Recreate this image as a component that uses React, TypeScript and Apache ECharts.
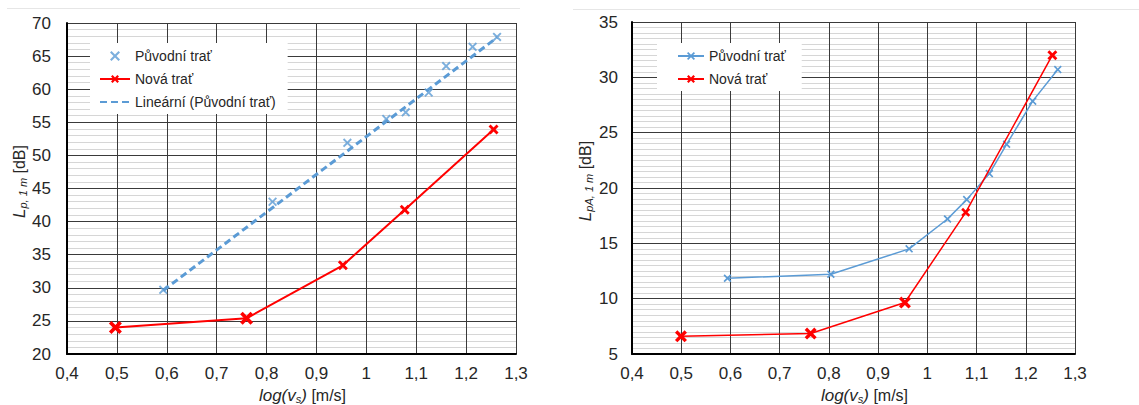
import { useEffect, useRef } from 'react';
import * as echarts from 'echarts';

// Left panel: L_p,1m versus log(v_s)
const leftOrigX = [0.593, 0.812, 0.962, 1.04, 1.079, 1.125, 1.16, 1.213, 1.262];
const leftOrigY = [29.7, 43.0, 51.9, 55.5, 56.5, 59.5, 63.5, 66.4, 67.9];
const leftNewX = [0.497, 0.76, 0.953, 1.077, 1.255];
const leftNewY = [24.0, 25.4, 33.4, 41.8, 53.9];
const leftTrendX = [0.593, 1.262];
const leftTrendY = [29.6, 67.8];

// Right panel: L_pA,1m versus log(v_s)
const rightOrigX = [0.594, 0.804, 0.963, 1.041, 1.08, 1.126, 1.161, 1.214, 1.265];
const rightOrigY = [11.85, 12.2, 14.5, 17.2, 18.95, 21.3, 23.95, 27.85, 30.7];
const rightNewX = [0.4995, 0.763, 0.9545, 1.078, 1.254];
const rightNewY = [6.6, 6.85, 9.65, 17.8, 32.0];

// Series names and axis titles
const NAME_ORIG = 'Původní trať';
const NAME_NEW = 'Nová trať';
const NAME_TREND = 'Lineární (Původní trať)';
const X_TITLE = '{i|log(v}{sub|s}{i|)} [m/s]';
const LEFT_Y_TITLE = '{i|L}{sub|p, 1 m} [dB]';
const RIGHT_Y_TITLE = '{i|L}{sub|pA, 1 m} [dB]';

// Marker sizes for the red series (emphasised low-speed points)
const leftNewSizes = [13, 13, 10, 10, 10];
const rightNewSizes = [12, 12, 12, 9, 10];

const FONT = '"Liberation Sans", Arial, sans-serif';
const BLUE = '#5B9BD5';
const RED = '#FF0000';
const TEXT = '#262626';

// X-shaped marker drawn in a 10x10 box; d sets the arm thickness
function xMark(d: number): string {
  return `path://M0,${d} L${d},0 L5,${5 - d} L${10 - d},0 L10,${d} L${5 + d},5 L10,${10 - d} L${10 - d},10 L5,${5 + d} L${d},10 L0,${10 - d} L${5 - d},5 Z`;
}
const THIN_X = xMark(1.5);
const BOLD_X = xMark(2.0);

const zip = (xs: number[], ys: number[]) => xs.map((x, i) => [x, ys[i]]);

const xLabel = (v: number) => String(Math.round(v * 10) / 10).replace('.', ',');

const richTitle = {
  i: { fontStyle: 'italic', fontSize: 17, fontFamily: FONT, color: TEXT, lineHeight: 18 },
  sub: {
    fontStyle: 'italic',
    fontSize: 11,
    fontFamily: FONT,
    color: TEXT,
    lineHeight: 11,
    verticalAlign: 'bottom',
  },
};

function xAxis(gridIndex: number) {
  return {
    type: 'value',
    gridIndex,
    min: 0.4,
    max: 1.3,
    interval: 0.1,
    name: X_TITLE,
    nameLocation: 'middle',
    nameGap: 32,
    nameTextStyle: {
      fontSize: 16,
      fontFamily: FONT,
      color: TEXT,
      padding: [0, 0, 0, 22],
      rich: richTitle,
    },
    axisLine: { show: true, lineStyle: { color: '#000', width: 2 } },
    axisTick: { show: false },
    axisLabel: { formatter: xLabel, fontSize: 17, fontFamily: FONT, color: TEXT, margin: 11 },
    splitLine: { show: true, lineStyle: { color: '#3a3a3a', width: 1 } },
  };
}

function yAxis(gridIndex: number, min: number, max: number, minorSplit: number, title: string, gap: number, margin: number) {
  return {
    type: 'value',
    gridIndex,
    min,
    max,
    interval: 5,
    name: title,
    nameLocation: 'middle',
    nameRotate: 90,
    nameGap: gap,
    nameTextStyle: {
      fontSize: 16,
      fontFamily: FONT,
      color: TEXT,
      padding: [0, 0, 0, 14],
      rich: richTitle,
    },
    axisLine: { show: true, onZero: false, lineStyle: { color: '#000', width: 2 } },
    axisTick: { show: false },
    axisLabel: { fontSize: 17, fontFamily: FONT, color: TEXT, margin },
    splitLine: { show: true, lineStyle: { color: '#3a3a3a', width: 1 } },
    minorTick: { show: false, splitNumber: minorSplit },
    minorSplitLine: { show: true, lineStyle: { color: '#d6d6d6', width: 1 } },
  };
}

function legend(left: number, top: number, names: string[], itemWidth: number, padLeft: number) {
  return {
    left,
    top,
    orient: 'vertical',
    backgroundColor: '#fff',
    padding: [6, 12, 5, padLeft],
    itemGap: 9,
    itemWidth,
    itemHeight: 10,
    selectedMode: false,
    data: names.map((name) =>
      name === NAME_TREND ? { name, itemStyle: { opacity: 0 } } : { name }
    ),
    textStyle: { fontSize: 14, fontFamily: FONT, color: TEXT },
  };
}

export default function App() {
  const ref = useRef<HTMLDivElement>(null);

  useEffect(() => {
    if (!ref.current) return;
    const chart = echarts.init(ref.current, undefined, { renderer: 'svg' });

    chart.setOption({
      animation: false,
      backgroundColor: '#fff',
      grid: [
        { left: 67, top: 23, width: 449, height: 331, outerBoundsMode: 'none', containLabel: false },
        { left: 632, top: 22, width: 443, height: 332, outerBoundsMode: 'none', containLabel: false },
      ],
      xAxis: [xAxis(0), xAxis(1)],
      yAxis: [
        yAxis(0, 20, 70, 5, LEFT_Y_TITLE, 36, 16),
        yAxis(1, 5, 35, 10, RIGHT_Y_TITLE, 38, 14),
      ],
      legend: [
        legend(90, 43, [NAME_ORIG, NAME_NEW, NAME_TREND], 30, 9),
        legend(657, 43, [NAME_ORIG + ' ', NAME_NEW + ' '], 26, 20),
      ],
      graphic: [
        { type: 'line', shape: { x1: 7, y1: 8.5, x2: 520, y2: 8.5 }, style: { stroke: '#e6e6e6', lineWidth: 1 }, silent: true },
        { type: 'line', shape: { x1: 573, y1: 9.5, x2: 1139, y2: 9.5 }, style: { stroke: '#e6e6e6', lineWidth: 1 }, silent: true },
      ],
      series: [
        {
          name: NAME_TREND,
          type: 'line',
          xAxisIndex: 0,
          yAxisIndex: 0,
          symbol: 'none',
          data: zip(leftTrendX, leftTrendY),
          lineStyle: { color: BLUE, width: 3, type: [7, 4] },
          itemStyle: { color: BLUE },
          z: 2,
        },
        {
          name: NAME_ORIG,
          type: 'scatter',
          xAxisIndex: 0,
          yAxisIndex: 0,
          symbol: THIN_X,
          symbolSize: 9,
          data: zip(leftOrigX, leftOrigY),
          itemStyle: { color: BLUE },
          z: 3,
        },
        {
          name: NAME_NEW,
          type: 'line',
          xAxisIndex: 0,
          yAxisIndex: 0,
          symbol: BOLD_X,
          symbolSize: 10,
          showAllSymbol: true,
          data: zip(leftNewX, leftNewY).map((p, i) => ({ value: p, symbolSize: leftNewSizes[i] })),
          lineStyle: { color: RED, width: 2 },
          itemStyle: { color: RED },
          z: 4,
        },
        {
          name: NAME_ORIG + ' ',
          type: 'line',
          xAxisIndex: 1,
          yAxisIndex: 1,
          symbol: THIN_X,
          symbolSize: 8,
          showAllSymbol: true,
          data: zip(rightOrigX, rightOrigY),
          lineStyle: { color: BLUE, width: 1.5 },
          itemStyle: { color: BLUE },
          z: 3,
        },
        {
          name: NAME_NEW + ' ',
          type: 'line',
          xAxisIndex: 1,
          yAxisIndex: 1,
          symbol: BOLD_X,
          symbolSize: 10,
          showAllSymbol: true,
          data: zip(rightNewX, rightNewY).map((p, i) => ({ value: p, symbolSize: rightNewSizes[i] })),
          lineStyle: { color: RED, width: 1.5 },
          itemStyle: { color: RED },
          z: 4,
        },
      ],
    });

    return () => chart.dispose();
  }, []);

  return (
    <div
      ref={ref}
      style={{ position: 'absolute', left: 0, top: 0, width: 1139, height: 405 }}
    />
  );
}
